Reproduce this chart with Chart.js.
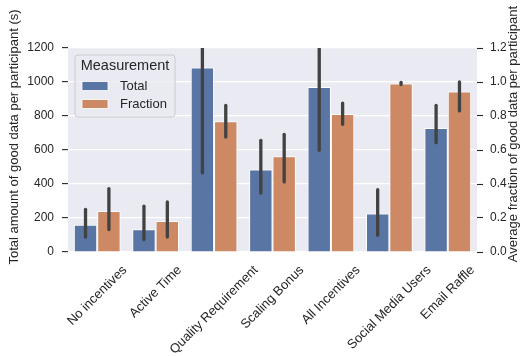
<!DOCTYPE html>
<html><head><meta charset="utf-8">
<script src="https://cdn.jsdelivr.net/npm/chart.js@4.4.1/dist/chart.umd.min.js"></script>
<style>html,body{margin:0;padding:0;background:#fff;} canvas{display:block;}</style>
</head><body>
<canvas id="c" width="523" height="356"></canvas>
<script>
const categories = ['No incentives','Active Time','Quality Requirement','Scaling Bonus','All Incentives','Social Media Users','Email Raffle'];
const totalValues = [161, 134, 1085, 486, 971, 226, 729];
const totalLow = [88, 73, 465, 347, 598, 98, 643];
const totalHigh = [251, 269, 1700, 657, 1350, 367, 863];
const fractionValues = [0.241, 0.182, 0.769, 0.563, 0.812, 0.991, 0.944];
const fractionLow = [0.132, 0.088, 0.676, 0.412, 0.751, 0.985, 0.83];
const fractionHigh = [0.373, 0.294, 0.863, 0.692, 0.876, 0.998, 1.0];
const leftTicks = [0, 200, 400, 600, 800, 1000, 1200];
const rightTicks = [0, 0.2, 0.4, 0.6, 0.8, 1.0, 1.2];
const seriesNames = ['Total', 'Fraction'];
const legendTitle = 'Measurement';
const leftTitle = 'Total amount of good data per participant (s)';
const rightTitle = 'Average fraction of good data per participant';

const FONT = '"Liberation Sans", Arial, Helvetica, sans-serif';
const TEXT = '#262626';
const BLUE = '#5975A4';
const ORANGE = '#CC8963';

const bgPlugin = {
  id: 'bg',
  beforeDraw(chart) {
    const {ctx, chartArea: a} = chart;
    ctx.save();
    ctx.fillStyle = '#EAEAF2';
    ctx.fillRect(a.left, a.top, a.right - a.left, a.bottom - a.top);
    ctx.restore();
  }
};

const errPlugin = {
  id: 'errbars',
  afterDatasetsDraw(chart) {
    const {ctx, chartArea: a} = chart;
    ctx.save();
    ctx.beginPath();
    ctx.rect(a.left, a.top, a.right - a.left, a.bottom - a.top);
    ctx.clip();
    ctx.strokeStyle = '#424242';
    ctx.lineWidth = 3.3;
    ctx.lineCap = 'round';
    chart.data.datasets.forEach((ds, di) => {
      const meta = chart.getDatasetMeta(di);
      const scale = chart.scales[ds.yAxisID];
      meta.data.forEach((bar, i) => {
        const y1 = scale.getPixelForValue(ds.errLow[i]);
        const y2 = scale.getPixelForValue(ds.errHigh[i]);
        ctx.beginPath();
        ctx.moveTo(bar.x, y1);
        ctx.lineTo(bar.x, y2);
        ctx.stroke();
      });
    });
    ctx.restore();
  }
};

const decoPlugin = {
  id: 'deco',
  afterDraw(chart) {
    const {ctx} = chart;
    const xs = chart.scales.x;
    ctx.save();
    ctx.fillStyle = TEXT;
    // category labels, rotated 45deg, centred on tick
    const fs = 13;
    ctx.font = fs + 'px ' + FONT;
    ctx.textAlign = 'center';
    ctx.textBaseline = 'middle';
    categories.forEach((lab, i) => {
      const x = xs.getPixelForTick(i);
      const w = ctx.measureText(lab).width;
      const h = fs * 1.1;
      const cy = xs.top + 11 + (w + h) * 0.7071 / 2;
      ctx.save();
      ctx.translate(x, cy);
      ctx.rotate(-Math.PI / 4);
      ctx.fillText(lab, 0, 0);
      ctx.restore();
    });
    // axis titles
    ctx.font = '13px ' + FONT;
    ctx.save();
    ctx.translate(14, 137);
    ctx.rotate(-Math.PI / 2);
    ctx.fillText(leftTitle, 0, 0);
    ctx.restore();
    ctx.save();
    ctx.translate(513, 134);
    ctx.rotate(-Math.PI / 2);
    ctx.fillText(rightTitle, 0, 0);
    ctx.restore();
    // legend
    const lx = 75, ly = 55, lw = 100, lh = 62, r = 3;
    ctx.beginPath();
    ctx.moveTo(lx + r, ly);
    ctx.arcTo(lx + lw, ly, lx + lw, ly + lh, r);
    ctx.arcTo(lx + lw, ly + lh, lx, ly + lh, r);
    ctx.arcTo(lx, ly + lh, lx, ly, r);
    ctx.arcTo(lx, ly, lx + lw, ly, r);
    ctx.closePath();
    ctx.fillStyle = 'rgba(234,234,242,0.8)';
    ctx.fill();
    ctx.strokeStyle = '#CCCCCC';
    ctx.lineWidth = 1;
    ctx.stroke();
    ctx.fillStyle = TEXT;
    ctx.font = '14.5px ' + FONT;
    ctx.textAlign = 'center';
    ctx.fillText(legendTitle, lx + lw / 2, 66);
    ctx.font = '13px ' + FONT;
    ctx.textAlign = 'left';
    chart.data.datasets.forEach((ds, i) => {
      const cy = 86 + i * 18;
      ctx.fillStyle = ds.backgroundColor;
      ctx.fillRect(82, cy - 4.5, 26, 9);
      ctx.strokeStyle = '#fff';
      ctx.lineWidth = 0.8;
      ctx.strokeRect(82, cy - 4.5, 26, 9);
      ctx.fillStyle = TEXT;
      ctx.fillText(ds.label, 120, cy);
    });
    ctx.restore();
  }
};

new Chart(document.getElementById('c'), {
  type: 'bar',
  data: {
    labels: categories,
    datasets: [
      { label: seriesNames[0], data: totalValues, errLow: totalLow, errHigh: totalHigh, yAxisID: 'y',
        backgroundColor: BLUE, borderColor: '#fff', borderWidth: 1,
        categoryPercentage: 0.8, barPercentage: 1.0 },
      { label: seriesNames[1], data: fractionValues, errLow: fractionLow, errHigh: fractionHigh, yAxisID: 'y1',
        backgroundColor: ORANGE, borderColor: '#fff', borderWidth: 1,
        categoryPercentage: 0.8, barPercentage: 1.0 }
    ]
  },
  options: {
    responsive: false,
    animation: false,
    devicePixelRatio: 1,
    layout: { padding: { top: 48, left: 0, right: 0, bottom: 0 } },
    plugins: { legend: { display: false }, tooltip: { enabled: false } },
    scales: {
      x: {
        grid: { display: false }, border: { display: false },
        ticks: { display: false },
        afterFit(s) { s.height = 104; }
      },
      y: {
        position: 'left', min: 0, max: 1200,
        afterBuildTicks(s) { s.ticks = leftTicks.map(v => ({ value: v })); },
        afterFit(s) { s.width = 68; },
        grid: { color: '#ffffff', lineWidth: 1.2, drawTicks: true, tickColor: TEXT, tickLength: 6, tickWidth: 1.1 },
        border: { display: false },
        ticks: { color: TEXT, font: { family: FONT, size: 12 }, padding: 8, callback: v => String(v) }
      },
      y1: {
        position: 'right', min: 0, max: 1.2,
        afterBuildTicks(s) { s.ticks = rightTicks.map(v => ({ value: v })); },
        afterFit(s) { s.width = 46; },
        grid: { drawOnChartArea: false, drawTicks: true, tickColor: TEXT, tickLength: 6, tickWidth: 1.1 },
        border: { display: false },
        ticks: { color: TEXT, font: { family: FONT, size: 12 }, padding: 7, callback: v => Number(v).toFixed(1) }
      }
    }
  },
  plugins: [bgPlugin, errPlugin, decoPlugin]
});
</script>
</body></html>
